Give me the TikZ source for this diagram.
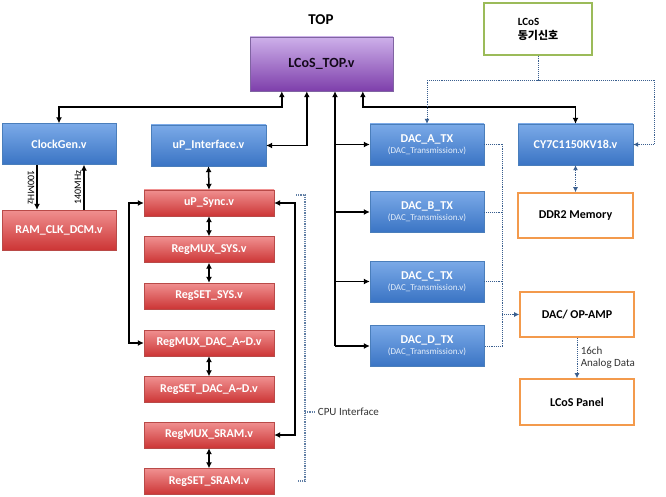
\documentclass[tikz,border=0pt]{standalone}
\usepackage{fontspec}
\setmainfont{Carlito}
\newfontfamily\krfont{Noto Sans CJK KR}
\usetikzlibrary{arrows.meta}

\definecolor{bluetop}{HTML}{7BAAE8}
\definecolor{bluebot}{HTML}{3A74C4}
\definecolor{blueline}{HTML}{4A7EBB}
\definecolor{redtop}{HTML}{F09090}
\definecolor{redbot}{HTML}{CC3535}
\definecolor{redline}{HTML}{B94A48}
\definecolor{purtop}{HTML}{CDB0EA}
\definecolor{purbot}{HTML}{7E3FAB}
\definecolor{purline}{HTML}{8064A2}
\definecolor{orangeline}{HTML}{F39A4C}
\definecolor{greenline}{HTML}{9BBB59}
\definecolor{dotblue}{HTML}{3A5F8F}

\newcommand{\subname}{{\fontsize{9}{10}\selectfont\mdseries\color{white!80!bluetop}(DAC\_Transmission.v)}}

\begin{document}
\begin{tikzpicture}[x=1pt,y=-1pt,
  bluebox/.style={rectangle,draw=blueline,top color=bluetop,bottom color=bluebot,
    text=white,font=\fontsize{12}{13}\selectfont\bfseries,minimum width=114pt,minimum height=41pt,
    align=center,inner sep=1pt},
  redbox/.style={rectangle,draw=redline,top color=redtop,bottom color=redbot,
    text=white,font=\fontsize{12}{13}\selectfont\bfseries,minimum width=130pt,minimum height=26pt,inner sep=1pt},
  orangebox/.style={rectangle,draw=orangeline,line width=1.6pt,fill=white,
    font=\fontsize{12}{13}\selectfont\bfseries,minimum width=114pt,minimum height=45pt},
  conn/.style={line width=1.5pt,{Latex[length=6pt,width=6pt]}-{Latex[length=6pt,width=6pt]}},
  oneway/.style={line width=1.5pt,-{Latex[length=6pt,width=6pt]}},
  dotconn/.style={dotblue,densely dotted,line width=0.9pt},
  dottip/.style={-{Latex[length=5pt,width=5pt]}},
  freq/.style={font=\fontsize{10}{11}\selectfont}]

\useasboundingbox (0,0) rectangle (666,497);

\node[font=\fontsize{15}{16}\selectfont\bfseries] (toplabel) at (321,20) {TOP};
\node[rectangle,draw=purline,top color=purtop,bottom color=purbot,text=black!85!purbot,
  font=\fontsize{14}{15}\selectfont\bfseries,minimum width=143pt,minimum height=54pt] (top) at (321.5,64) {LCoS\_TOP.v};

\node[bluebox] (clk) at (59,144) {ClockGen.v};
\node[redbox,minimum width=114pt,minimum height=40pt] (ram) at (59,230) {RAM\_CLK\_DCM.v};
\node[bluebox,minimum width=115pt] (upif) at (208.5,145.5) {uP\_Interface.v};

\node[redbox] (upsync) at (209,203) {uP\_Sync.v};
\node[redbox] (muxsys) at (209,249.5) {RegMUX\_SYS.v};
\node[redbox] (setsys) at (209,296) {RegSET\_SYS.v};
\node[redbox] (muxdac) at (209,343) {RegMUX\_DAC\_A\textasciitilde D.v};
\node[redbox] (setdac) at (209,389.5) {RegSET\_DAC\_A\textasciitilde D.v};
\node[redbox] (muxsram) at (209,435) {RegMUX\_SRAM.v};
\node[redbox] (setsram) at (209,481.5) {RegSET\_SRAM.v};

\node[bluebox] (daca) at (427,144.5) {DAC\_A\_TX\\[-2pt]\subname};
\node[bluebox] (dacb) at (427,212) {DAC\_B\_TX\\[-2pt]\subname};
\node[bluebox] (dacc) at (427,281.5) {DAC\_C\_TX\\[-2pt]\subname};
\node[bluebox] (dacd) at (427,346) {DAC\_D\_TX\\[-2pt]\subname};

\node[bluebox,minimum width=115pt] (cy7) at (575.5,144.5) {CY7C1150KV18.v};
\node[orangebox,minimum width=115pt] (ddr) at (575.5,215.5) {DDR2 Memory};
\node[orangebox] (opamp) at (577,314.5) {DAC/ OP-AMP};
\node[orangebox,minimum height=46pt] (panel) at (577,402) {LCoS Panel};
\node[rectangle,draw=greenline,line width=1.6pt,fill=white,minimum width=108pt,minimum height=52pt,
  align=left,font=\fontsize{11}{14}\selectfont\bfseries] (sync) at (538,29) {LCoS\\{\krfont 동기신호}};

\coordinate (trunk) at (335,0);
\coordinate (bus) at (502,0);
\coordinate (syncr) at (654,80);

% TOP connections
\draw[conn] ([xshift=32pt]top.south west) -- ++(0,16) -| (clk.north);
\draw[conn] ([xshift=57pt]top.south west) |- (upif.east);
\draw[conn] ([xshift=113pt]top.south west) -- ++(0,16) -| (cy7.north);
\draw[line width=1.5pt,{Latex[length=6pt,width=6pt]}-] (top.south -| trunk) -- (dacd.west -| trunk);
\draw[oneway] (daca.west -| trunk) -- (daca.west);
\draw[oneway] (dacb.west -| trunk) -- (dacb.west);
\draw[oneway] (dacc.west -| trunk) -- (dacc.west);
\draw[oneway] (dacd.west -| trunk) -- (dacd.west);

% clocks
\draw[oneway] ([xshift=-22pt]clk.south) -- ([xshift=-22pt]ram.north)
  node[freq,midway,rotate=-90,anchor=north,inner sep=2pt] {100MHz};
\draw[oneway] ([xshift=25pt]ram.north) -- ([xshift=25pt]clk.south)
  node[freq,midway,rotate=90,anchor=south,inner sep=2pt] {140MHz};

% CPU interface
\draw[conn] (upif.south) -- (upsync.north);
\draw[conn] (upsync.south) -- (muxsys.north);
\draw[conn] (muxsys.south) -- (setsys.north);
\draw[conn] (muxdac.south) -- (setdac.north);
\draw[conn] (muxsram.south) -- (setsram.north);
\draw[conn] (upsync.west) -- ++(-15,0) |- (muxdac.west);
\draw[conn] (upsync.east) -- ++(21,0) |- (muxsram.east);

\draw[dotconn,line width=1.2pt,dotblue!80!white] (296,195) -- (305,195) -- (305,481) -- (298,481);
\draw[dotconn,line width=1.2pt,dotblue!80!white] (305,412) -- (314,412)
  node[right,black!80,font=\fontsize{11}{12}\selectfont] (cpu) {CPU Interface};

% sync / memory / dac
\draw[dotconn,dottip] (sync.south) -- ++(0,25) -| (daca.north);
\draw[dotconn,dottip] (sync.south) |- (syncr) |- (cy7.east);
\draw[dotconn,{Latex[length=5pt,width=5pt]}-{Latex[length=5pt,width=5pt]}] (cy7.south) -- (ddr.north);
\draw[dotconn] (daca.east) -- (daca.east -| bus) -- (dacd.east -| bus) -- (dacd.east);
\draw[dotconn] (dacb.east) -- (dacb.east -| bus);
\draw[dotconn] (dacc.east) -- (dacc.east -| bus);
\draw[dotconn,dottip] (opamp.west -| bus) -- (opamp.west);
\draw[dotconn,dottip] (opamp.south) -- (panel.north)
  node[midway,right,align=left,font=\fontsize{11}{12}\selectfont,black!80] {16ch\\Analog Data};

\end{tikzpicture}
\end{document}
